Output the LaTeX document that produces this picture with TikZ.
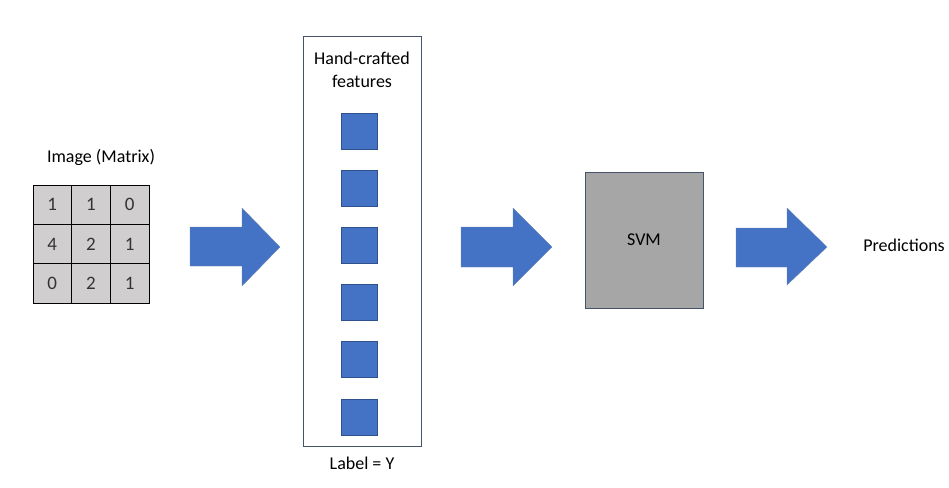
\documentclass[tikz,border=0pt]{standalone}
\usepackage{fontspec}
\setmainfont{Carlito}
\definecolor{fblue}{HTML}{4472C4}
\definecolor{fedge}{HTML}{2F528F}
\definecolor{cellgray}{HTML}{D0CECE}
\definecolor{svmgray}{HTML}{A6A6A6}
\definecolor{boxedge}{HTML}{44546A}
\begin{document}
\begin{tikzpicture}[x=1pt,y=-1pt,
  txt/.style={font=\fontsize{18}{23}\selectfont, text=black, align=center, inner sep=0pt},
  cell/.style={draw=black, line width=0.8pt, fill=cellgray, minimum width=38.7pt, minimum height=39.3pt, inner sep=0pt, font=\fontsize{19}{21}\selectfont, text=black!80},
  feat/.style={draw=fedge, line width=0.8pt, fill=fblue, minimum size=36pt, inner sep=0pt},
  bigarrow/.style={draw=fedge!70, line width=0.3pt, fill=fblue}]
\useasboundingbox (0,0) rectangle (949,487);
% matrix
\node[txt] (imglabel) at (101,157) {Image (Matrix)};
\foreach \r/\a/\b/\c [count=\i from 0] in {0/1/1/0,1/4/2/1,2/0/2/1}{
  \node[cell] (c\i a) at (52.3,204.7+39.3*\i) {\a};
  \node[cell] (c\i b) at (91,204.7+39.3*\i) {\b};
  \node[cell] (c\i c) at (129.7,204.7+39.3*\i) {\c};
}
% arrow 1
\draw[bigarrow] (190,227) -- (242,227) -- (242,208) -- (280,247) -- (242,286) -- (242,266) -- (190,266) -- cycle;
% feature box
\node[draw=boxedge, line width=0.8pt, minimum width=118pt, minimum height=410pt, inner sep=0pt] (fbox) at (362,241) {};
\node[txt] (ftitle) at (362,70) {Hand-crafted\\features};
\foreach \i in {0,...,5}{
  \node[feat] (f\i) at (359,131+57.2*\i) {};
}
\node[txt] (ylabel) at (362,463) {Label = Y};
% arrow 2
\draw[bigarrow] (461,227) -- (513,227) -- (513,208) -- (552,247) -- (513,286) -- (513,267) -- (461,267) -- cycle;
% SVM
\node[draw=boxedge, line width=0.8pt, fill=svmgray, minimum width=118pt, minimum height=136pt, inner sep=0pt, font=\fontsize{18}{21}\selectfont] (svm) at (644,240) {SVM};
% arrow 3
\draw[bigarrow] (736,228) -- (787,228) -- (787,208) -- (827,247) -- (787,285) -- (787,267) -- (736,267) -- cycle;
\node[txt] (pred) at (904,245) {Predictions};
\end{tikzpicture}
\end{document}
